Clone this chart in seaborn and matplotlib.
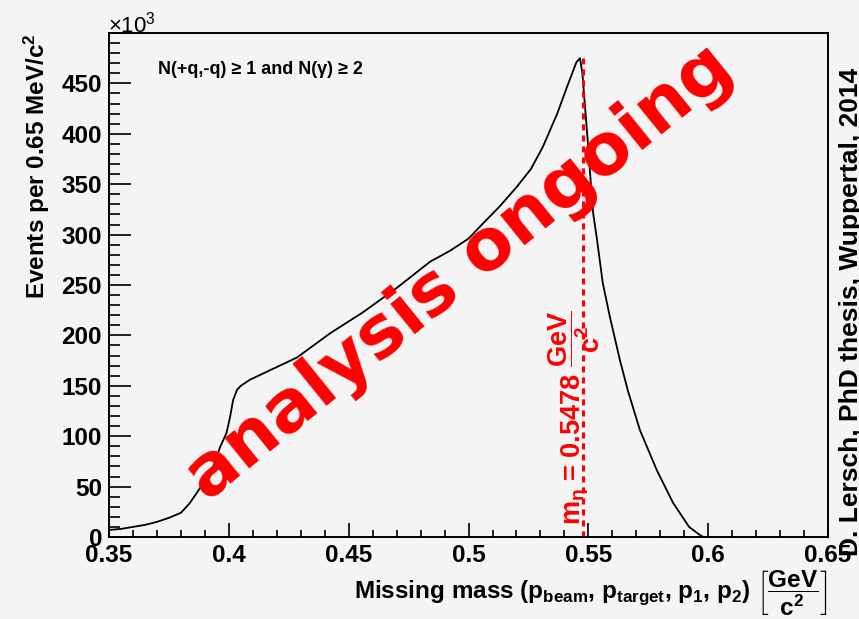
import numpy as np
import pandas as pd
import matplotlib
matplotlib.use("Agg")
import matplotlib.pyplot as plt
import seaborn as sns
from matplotlib.ticker import MultipleLocator, FixedLocator, FuncFormatter

# ---- data (x in GeV/c^2, y in units of 10^3 events) ----
mass = [0.350, 0.355, 0.360, 0.365, 0.370, 0.375, 0.380, 0.3835, 0.3867, 0.390,
        0.3934, 0.3963, 0.399, 0.4005, 0.4018, 0.4034, 0.405, 0.4088, 0.415, 0.4284,
        0.4422, 0.456, 0.470, 0.4839, 0.4923, 0.500, 0.506, 0.513, 0.520, 0.526,
        0.531, 0.537, 0.541, 0.545, 0.5465, 0.5475, 0.5485, 0.5494, 0.5507, 0.552,
        0.5536, 0.556, 0.559, 0.5632, 0.5665, 0.5715, 0.5786, 0.5853, 0.592, 0.5965,
        0.598]
events_k = [7, 8, 10, 12, 15, 19, 24, 33, 44, 56,
            69, 89, 103, 119, 136, 146, 150, 156, 163, 178,
            202, 223, 247, 273, 284, 296, 311, 328, 347, 365,
            387, 420, 446, 471, 475, 460, 430, 403, 361, 321,
            295, 252, 218, 175, 145, 106, 66, 34, 10, 2,
            0]
eta_mass = 0.5478
x_ticks = [0.35, 0.40, 0.45, 0.50, 0.55, 0.60, 0.65]
y_ticks = [0, 50, 100, 150, 200, 250, 300, 350, 400, 450]

df = pd.DataFrame({"mass": mass, "events": events_k})

sns.set_theme(style="ticks")
bg = "#f4f4f4"
plt.rcParams.update({
    "font.family": ["Liberation Sans", "DejaVu Sans"],
    "font.weight": "bold",
    "mathtext.fontset": "custom",
    "mathtext.rm": "Liberation Sans:bold",
    "mathtext.it": "Liberation Sans:bold",
    "mathtext.bf": "Liberation Sans:bold",
    "mathtext.sf": "Liberation Sans:bold",
    "axes.facecolor": bg,
    "figure.facecolor": bg,
    "text.color": "black",
    "axes.labelcolor": "black",
    "xtick.color": "black",
    "ytick.color": "black",
    "axes.edgecolor": "black",
})

fig = plt.figure(figsize=(8.59, 6.19), dpi=100)
ax = fig.add_axes([0.1269, 0.1325, 0.8371, 0.8142])

sns.lineplot(data=df, x="mass", y="events", ax=ax, color="black", lw=1.3,
             estimator=None, sort=False)

ax.vlines(eta_mass, 0, max(events_k), colors="red", lw=2.2,
          linestyles=(0, (2, 1.6)))

ax.set_xlim(0.35, 0.65)
ax.set_ylim(0, 500)
ax.xaxis.set_major_locator(FixedLocator(x_ticks))
ax.xaxis.set_minor_locator(MultipleLocator(0.01))
ax.yaxis.set_major_locator(FixedLocator(y_ticks))
ax.yaxis.set_minor_locator(MultipleLocator(10))
ax.xaxis.set_major_formatter(FuncFormatter(lambda v, p: f"{v:g}"))
ax.yaxis.set_major_formatter(FuncFormatter(lambda v, p: f"{v:g}"))

for s in ax.spines.values():
    s.set_linewidth(1.4)
    s.set_color("black")
    s.set_visible(True)

ax.tick_params(axis="x", which="major", direction="in", length=10, width=1.2,
               labelsize=17.5, pad=5, colors="black")
ax.tick_params(axis="x", which="minor", direction="in", length=5, width=1.2)
ax.tick_params(axis="y", which="major", direction="in", length=15.5, width=1.2,
               labelsize=17.5, pad=5, colors="black")
ax.tick_params(axis="y", which="minor", direction="in", length=8, width=1.2)
for lab in ax.get_xticklabels() + ax.get_yticklabels():
    lab.set_fontweight("bold")
    lab.set_color("black")

ax.set_xlabel("")
ax.set_ylabel("")

# axis titles
fig.text(828 / 859, 1 - 593 / 619,
         r"Missing mass (p$_{\mathrm{beam}}$, p$_{\mathrm{target}}$, p$_{\mathrm{1}}$, p$_{\mathrm{2}}$) "
         r"$\left[\dfrac{\mathrm{GeV}}{\mathrm{c}^{2}}\right]$",
         ha="right", va="center", fontsize=17.5, fontweight="bold", color="black")
fig.text(37 / 859, 1 - 33 / 619, r"Events per 0.65 MeV/c$^{2}$",
         rotation=90, ha="center", va="top", fontsize=17.5, fontweight="bold",
         color="black")
fig.text(108 / 859, 1 - 32 / 619, r"×10$^{\mathregular{3}}$",
         ha="left", va="baseline", fontsize=16, fontweight="normal", color="black")

# selection text
ax.text(0.068, 0.927, "N(+q,-q) ≥ 1 and N(γ) ≥ 2", transform=ax.transAxes,
        ha="left", va="center", fontsize=13, fontweight="bold", color="black")

# eta mass label
ax.text(0.5440, 12, r"m$_{\eta}$ = 0.5478 $\dfrac{\mathrm{GeV}}{\mathrm{c}^{2}}$",
        rotation=90, color="red", fontsize=19.5, ha="center", va="bottom")

# credit
fig.text(839 / 859, 1 - 556 / 619, "D. Lersch, PhD thesis, Wuppertal, 2014",
         rotation=90, ha="left", va="bottom", fontsize=19, fontweight="bold",
         color="black")

# watermark
fig.text(460 / 859, 1 - 273 / 619, "analysis ongoing", rotation=39,
         ha="center", va="center", rotation_mode="anchor",
         fontsize=51.5, fontweight="bold", family="DejaVu Sans", color="red")

fig.savefig("out.png", dpi=100, facecolor=bg)
